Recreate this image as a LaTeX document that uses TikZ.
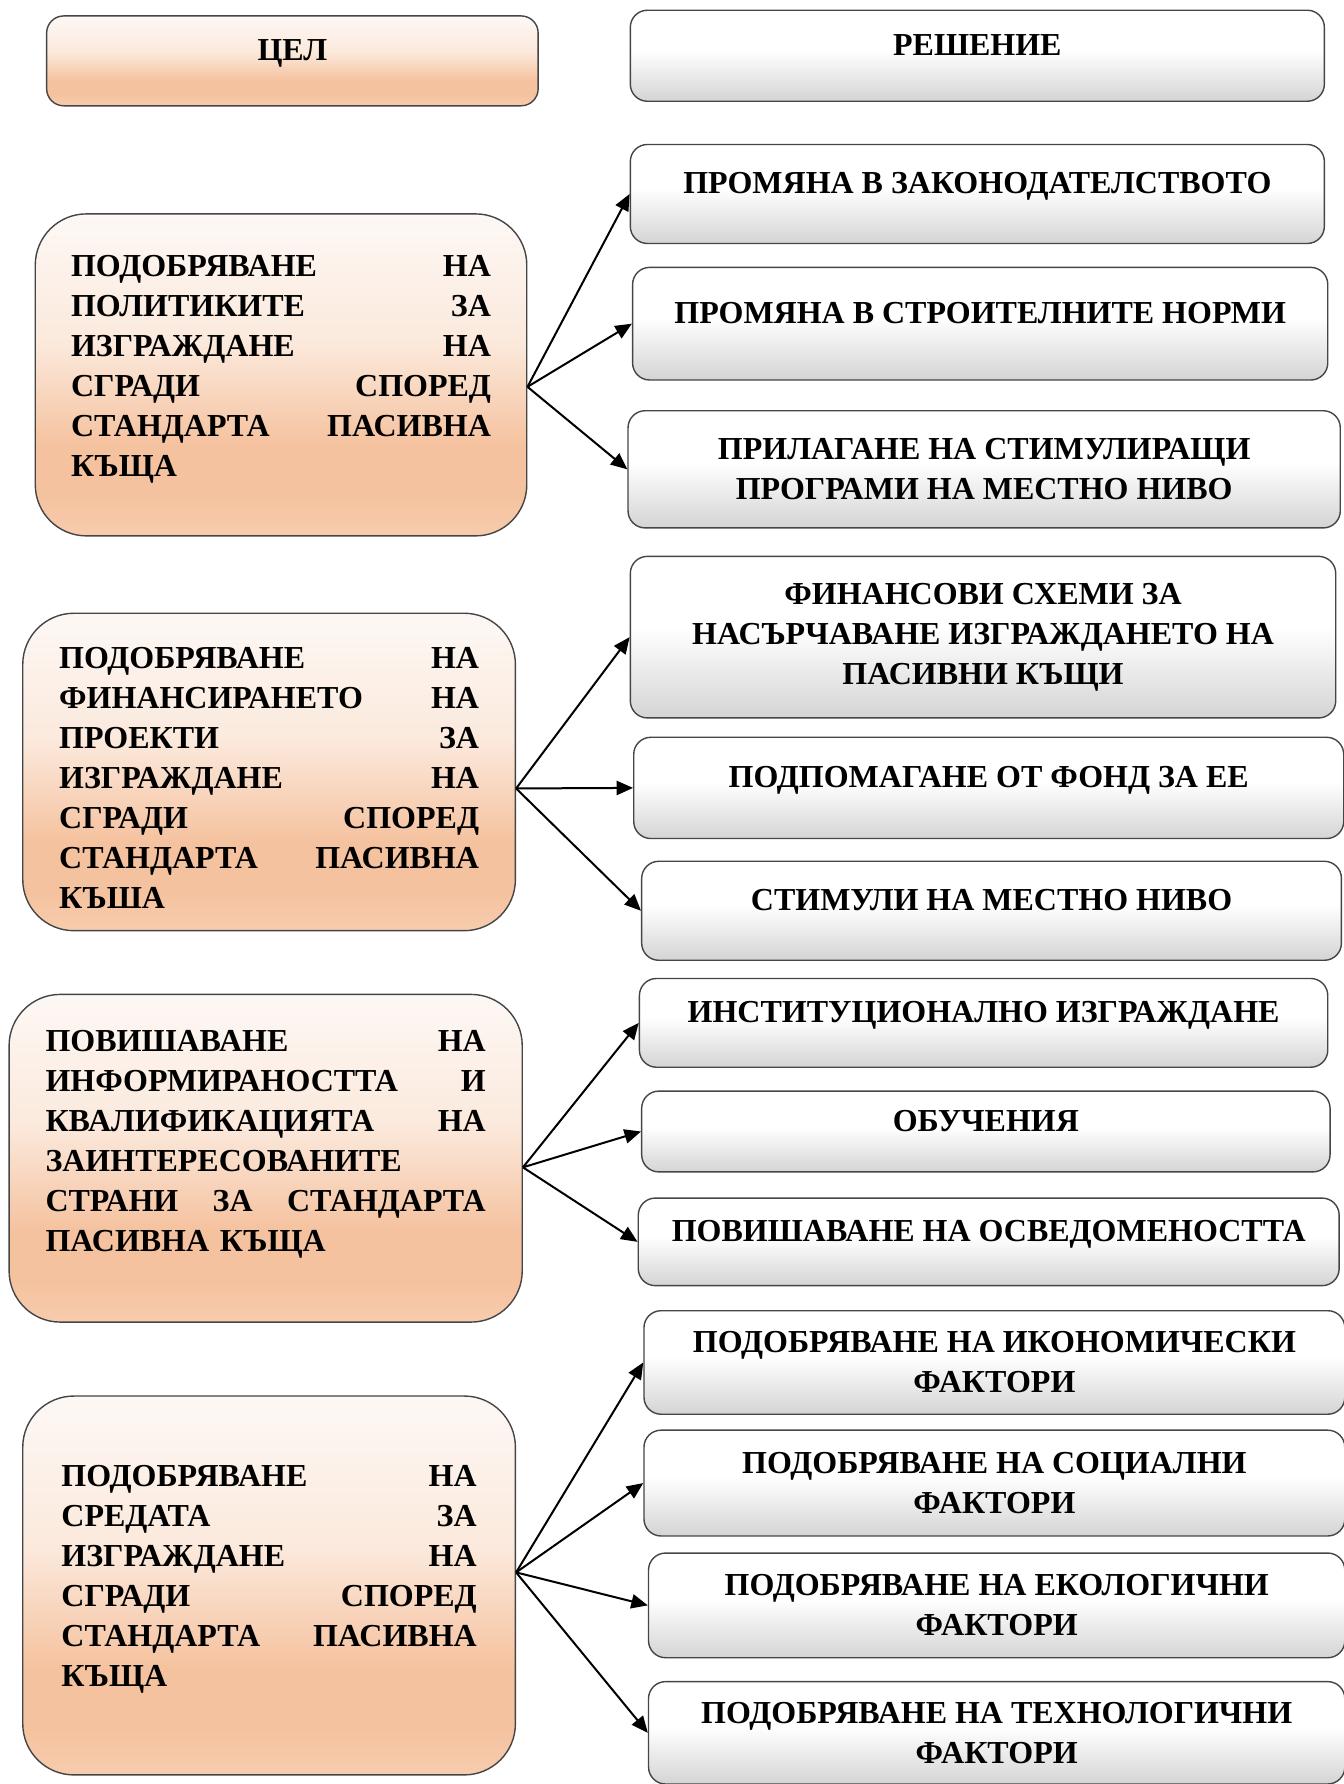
\documentclass[tikz,border=0pt]{standalone}
\usepackage{fontspec}
\setmainfont{Liberation Serif}
\usetikzlibrary{arrows.meta}

\definecolor{edge}{HTML}{454545}
\definecolor{ptop}{HTML}{FDF8F5}
\definecolor{plight}{HTML}{FBE9DC}
\definecolor{peach}{HTML}{F5C29F}
\definecolor{pbot}{HTML}{F7CCAE}
\definecolor{gtop}{HTML}{FFFFFF}
\definecolor{glight}{HTML}{F6F6F6}
\definecolor{gbot}{HTML}{D4D4D4}

\pgfdeclareverticalshading{goalshade}{100bp}{color(0bp)=(pbot); color(25bp)=(pbot); color(31bp)=(peach); color(39bp)=(peach); color(55bp)=(plight); color(75bp)=(ptop); color(100bp)=(ptop)}
\pgfdeclareverticalshading{solshade}{100bp}{color(0bp)=(gbot); color(25bp)=(gbot); color(47bp)=(glight); color(53bp)=(gtop); color(75bp)=(gtop); color(100bp)=(gtop)}

\tikzset{
  box/.style={draw=edge, line width=0.7pt, inner sep=0pt,
    font=\bfseries\fontsize{16pt}{20pt}\selectfont},
  head/.style={box, shade, shading=goalshade, rounded corners=3mm, align=center},
  goal/.style={box, shade, shading=goalshade, rounded corners=9mm, align=left},
  sol/.style={box, shade, shading=solshade, rounded corners=3mm, align=center},
  oneline/.style={text height=2mm, text depth=2mm},
  link/.style={-{Triangle[length=2.9mm,width=2.5mm]}, line width=1pt}
}

\begin{document}
\begin{tikzpicture}[x=0.2mm, y=-0.2mm]
      \useasboundingbox (0,0) rectangle (1181,1568);
      \path
        (257,53.5) node[head, oneline, minimum width=86.4mm, minimum height=15.8mm] (cel) {ЦЕЛ}
        (859,49) node[sol, oneline, minimum width=122mm, minimum height=16mm] (res) {РЕШЕНИЕ}
        (247,329.5) node[goal, text width=73.8mm, minimum width=86.4mm, minimum height=56.6mm] (g1)
          {ПОДОБРЯВАНЕ\hfill НА\\ ПОЛИТИКИТЕ\hfill ЗА\\ ИЗГРАЖДАНЕ\hfill НА\\
           СГРАДИ\hfill СПОРЕД\\ СТАНДАРТА\hfill ПАСИВНА\\ КЪЩА\rule[-3mm]{0pt}{0pt}}
        (236.5,678.5) node[goal, text width=73.8mm, minimum width=86.6mm, minimum height=55.8mm] (g2)
          {\rule{0pt}{5.7mm}ПОДОБРЯВАНЕ\hfill НА\\ ФИНАНСИРАНЕТО\hfill НА\\ ПРОЕКТИ\hfill ЗА\\ ИЗГРАЖДАНЕ\hfill НА\\
           СГРАДИ\hfill СПОРЕД\\ СТАНДАРТА\hfill ПАСИВНА\\ КЪША}
        (233.5,1018) node[goal, text width=77.4mm, minimum width=90.2mm, minimum height=57.6mm] (g3)
          {ПОВИШАВАНЕ\hfill НА\\ ИНФОРМИРАНОСТТА\hfill И\\ КВАЛИФИКАЦИЯТА\hfill НА\\
           ЗАИНТЕРЕСОВАНИТЕ\\ СТРАНИ\hfill ЗА\hfill СТАНДАРТА\\ ПАСИВНА КЪЩА\rule[-6.2mm]{0pt}{0pt}}
        (236.5,1393.5) node[goal, text width=73mm, minimum width=86.6mm, minimum height=66.6mm] (g4)
          {ПОДОБРЯВАНЕ\hfill НА\\ СРЕДАТА\hfill ЗА\\ ИЗГРАЖДАНЕ\hfill НА\\
           СГРАДИ\hfill СПОРЕД\\ СТАНДАРТА\hfill ПАСИВНА\\ КЪЩА\rule[-3.4mm]{0pt}{0pt}};
      % solutions
      \path
        (859,170.5) node[sol, oneline, minimum width=122mm, minimum height=17.4mm] (s11) {ПРОМЯНА В ЗАКОНОДАТЕЛСТВОТО}
        (861.5,284.5) node[sol, oneline, minimum width=122.2mm, minimum height=19.8mm] (s12) {ПРОМЯНА В СТРОИТЕЛНИТЕ НОРМИ}
        (865,412.5) node[sol, minimum width=125.2mm, minimum height=20.6mm] (s13)
          {ПРИЛАГАНЕ НА СТИМУЛИРАЩИ\\ ПРОГРАМИ НА МЕСТНО НИВО}
        (864,560) node[sol, minimum width=124mm, minimum height=28.4mm] (s21)
          {ФИНАНСОВИ СХЕМИ ЗА\\ НАСЪРЧАВАНЕ ИЗГРАЖДАНЕТО НА\\ ПАСИВНИ КЪЩИ}
        (869,692.5) node[sol, oneline, minimum width=124.8mm, minimum height=17.8mm] (s22) {ПОДПОМАГАНЕ ОТ ФОНД ЗА ЕЕ}
        (871.5,800.5) node[sol, oneline, minimum width=123mm, minimum height=17.4mm] (s23) {СТИМУЛИ НА МЕСТНО НИВО}
        (864.5,899) node[sol, oneline, minimum width=121mm, minimum height=15.6mm] (s31) {ИНСТИТУЦИОНАЛНО ИЗГРАЖДАНЕ}
        (866.5,994.5) node[sol, oneline, minimum width=121mm, minimum height=14.2mm] (s32) {ОБУЧЕНИЯ}
        (869,1091.5) node[sol, oneline, minimum width=123.2mm, minimum height=15.4mm] (s33) {ПОВИШАВАНЕ НА ОСВЕДОМЕНОСТТА}
        (874,1197.5) node[sol, minimum width=123.2mm, minimum height=18.2mm] (s41)
          {ПОДОБРЯВАНЕ НА ИКОНОМИЧЕСКИ\\ ФАКТОРИ}
        (874,1303.5) node[sol, minimum width=123.2mm, minimum height=18.6mm] (s42)
          {ПОДОБРЯВАНЕ НА СОЦИАЛНИ\\ ФАКТОРИ}
        (876,1411) node[sol, minimum width=122.4mm, minimum height=18.4mm] (s43)
          {ПОДОБРЯВАНЕ НА ЕКОЛОГИЧНИ\\ ФАКТОРИ}
        (876,1523) node[sol, minimum width=122.4mm, minimum height=18mm] (s44)
          {ПОДОБРЯВАНЕ НА ТЕХНОЛОГИЧНИ\\ ФАКТОРИ};
      \begin{scope}[link]
        \draw ([yshift=-2.1mm]g1.east) to (s11.west);
        \draw ([yshift=-2.1mm]g1.east) to (s12.west);
        \draw ([yshift=-2.1mm]g1.east) to (s13.west);
        \draw ([yshift=-2.9mm]g2.east) to (s21.west);
        \draw ([yshift=-2.9mm]g2.east) to (s22.west);
        \draw ([yshift=-2.9mm]g2.east) to (s23.west);
        \draw ([yshift=-1.6mm]g3.east) to (s31.west);
        \draw ([yshift=-1.6mm]g3.east) to (s32.west);
        \draw ([yshift=-1.6mm]g3.east) to (s33.west);
        \draw ([yshift=2.3mm]g4.east) to (s41.west);
        \draw ([yshift=2.3mm]g4.east) to (s42.west);
        \draw ([yshift=2.3mm]g4.east) to (s43.west);
        \draw ([yshift=2.3mm]g4.east) to (s44.west);
      \end{scope}
    \end{tikzpicture}
\end{document}
